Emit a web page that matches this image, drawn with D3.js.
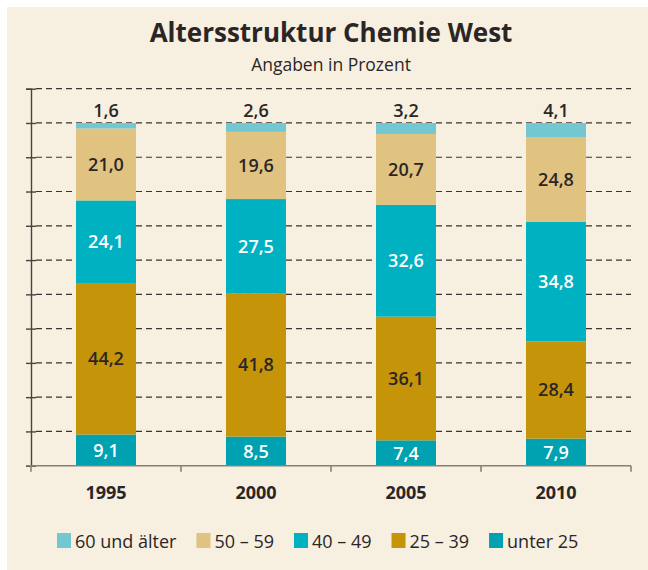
<!DOCTYPE html>
<html>
<head>
<meta charset="utf-8">
<script src="https://cdn.jsdelivr.net/npm/d3@7"></script>
<style>
  body { margin: 0; background: #ffffff; }
  svg { display: block; font-family: "Open Sans", sans-serif; }
</style>
</head>
<body>
<svg id="chart" width="648" height="570"></svg>
<script>
// Daten
var jahre = ["1995", "2000", "2005", "2010"];
var gruppen = ["unter 25", "25 – 39", "40 – 49", "50 – 59", "60 und älter"];
var unter25 = [9.1, 8.5, 7.4, 7.9];
var von25bis39 = [44.2, 41.8, 36.1, 28.4];
var von40bis49 = [24.1, 27.5, 32.6, 34.8];
var von50bis59 = [21.0, 19.6, 20.7, 24.8];
var ab60 = [1.6, 2.6, 3.2, 4.1];
var yTicks = [0, 10, 20, 30, 40, 50, 60, 70, 80, 90, 100, 110];

var farben = ["#00a1b1", "#c59409", "#00b2c1", "#e0c281", "#72c7d1"];
var textFarben = ["#ffffff", "#2b2626", "#ffffff", "#2b2626", "#2b2626"];
var legendeReihenfolge = [4, 3, 2, 1, 0];

var serien = [unter25, von25bis39, von40bis49, von50bis59, ab60];

// Tabelle fuer d3.stack
var tabelle = jahre.map(function (j, i) {
    var zeile = { jahr: j };
    gruppen.forEach(function (g, k) { zeile[g] = serien[k][i]; });
    return zeile;
});

var stapel = d3.stack().keys(gruppen)(tabelle);

var svg = d3.select("#chart");

// Hintergrund
svg.append("rect")
    .attr("x", 7).attr("y", 7)
    .attr("width", 641).attr("height", 563)
    .attr("fill", "#f7efe0");

var x = d3.scaleBand()
    .domain(jahre)
    .range([31, 631])
    .paddingInner(0.6)
    .paddingOuter(0.3);

var y = d3.scaleLinear()
    .domain([0, 110])
    .range([465.7, 88.7]);

// Gitterlinien
svg.append("g")
    .selectAll("line")
    .data(yTicks.slice(1))
    .enter()
    .append("line")
    .attr("x1", 36).attr("x2", 631)
    .attr("y1", function (d) { return y(d); })
    .attr("y2", function (d) { return y(d); })
    .attr("stroke", "#3a3434")
    .attr("stroke-width", 1.2)
    .attr("stroke-dasharray", "6,4");

// Y-Achse
var yAchse = d3.axisLeft(y).tickValues(yTicks).tickSize(5).tickFormat("");
var gy = svg.append("g").attr("transform", "translate(31,0)").call(yAchse);
gy.select(".domain").attr("stroke", "#4a4242").attr("stroke-width", 1.4);
gy.selectAll(".tick line").attr("x2", -5).attr("x1", 5)
    .attr("stroke", "#4a4242").attr("stroke-width", 1.4);

// Balken
var ebenen = svg.append("g")
    .selectAll("g")
    .data(stapel)
    .enter()
    .append("g")
    .attr("fill", function (d, i) { return farben[i]; });

ebenen.selectAll("rect")
    .data(function (d) { return d; })
    .enter()
    .append("rect")
    .attr("x", function (d) { return x(d.data.jahr); })
    .attr("width", x.bandwidth())
    .attr("y", function (d) { return y(d[1]); })
    .attr("height", function (d) { return y(d[0]) - y(d[1]); });

// X-Achse
var xAchse = svg.append("g");
xAchse.append("line")
    .attr("x1", 26).attr("x2", 631)
    .attr("y1", y(0)).attr("y2", y(0))
    .attr("stroke", "#8a8078").attr("stroke-width", 1.6);
var grenzen = jahre.map(function (j) { return x(j) - x.step() * x.paddingOuter(); });
grenzen.push(x.range()[1]);
xAchse.selectAll(".grenze")
    .data(grenzen)
    .enter()
    .append("line")
    .attr("x1", function (d) { return d; })
    .attr("x2", function (d) { return d; })
    .attr("y1", y(0)).attr("y2", y(0) + 6)
    .attr("stroke", "#8a8078").attr("stroke-width", 1.6);

xAchse.selectAll("text")
    .data(jahre)
    .enter()
    .append("text")
    .attr("x", function (d) { return x(d) + x.bandwidth() / 2; })
    .attr("y", 499)
    .attr("text-anchor", "middle")
    .attr("font-size", 18)
    .attr("font-weight", "bold")
    .attr("fill", "#2b2626")
    .text(function (d) { return d; });

// Werte
var fmt = function (v) { return d3.format(".1f")(v).replace(".", ","); };
stapel.forEach(function (ebene, k) {
    svg.append("g")
        .selectAll("text")
        .data(ebene)
        .enter()
        .append("text")
        .attr("x", function (d) { return x(d.data.jahr) + x.bandwidth() / 2; })
        .attr("y", function (d) {
            if (k === 4) return y(d[1]) - 6;
            return (y(d[0]) + y(d[1])) / 2 + 6.5;
        })
        .attr("text-anchor", "middle")
        .attr("font-size", 18)
        .attr("font-weight", 600)
        .attr("fill", textFarben[k])
        .text(function (d) { return fmt(d[1] - d[0]); });
});

// Titel
svg.append("text")
    .attr("x", 331).attr("y", 42)
    .attr("text-anchor", "middle")
    .attr("font-size", 26)
    .attr("font-weight", "bold")
    .attr("fill", "#2b2626")
    .text("Altersstruktur Chemie West");

svg.append("text")
    .attr("x", 331).attr("y", 70.5)
    .attr("text-anchor", "middle")
    .attr("font-size", 17.5)
    .attr("fill", "#2b2626")
    .text("Angaben in Prozent");

// Legende
var legende = svg.append("g");
var lx = 57;
legendeReihenfolge.forEach(function (k) {
    legende.append("rect")
        .attr("x", lx).attr("y", 533)
        .attr("width", 14).attr("height", 15)
        .attr("fill", farben[k]);
    var t = legende.append("text")
        .attr("x", lx + 18).attr("y", 548)
        .attr("font-size", 18)
        .attr("fill", "#2b2626")
        .text(gruppen[k]);
    lx += 18 + t.node().getComputedTextLength() + 20;
});
</script>
</body>
</html>
